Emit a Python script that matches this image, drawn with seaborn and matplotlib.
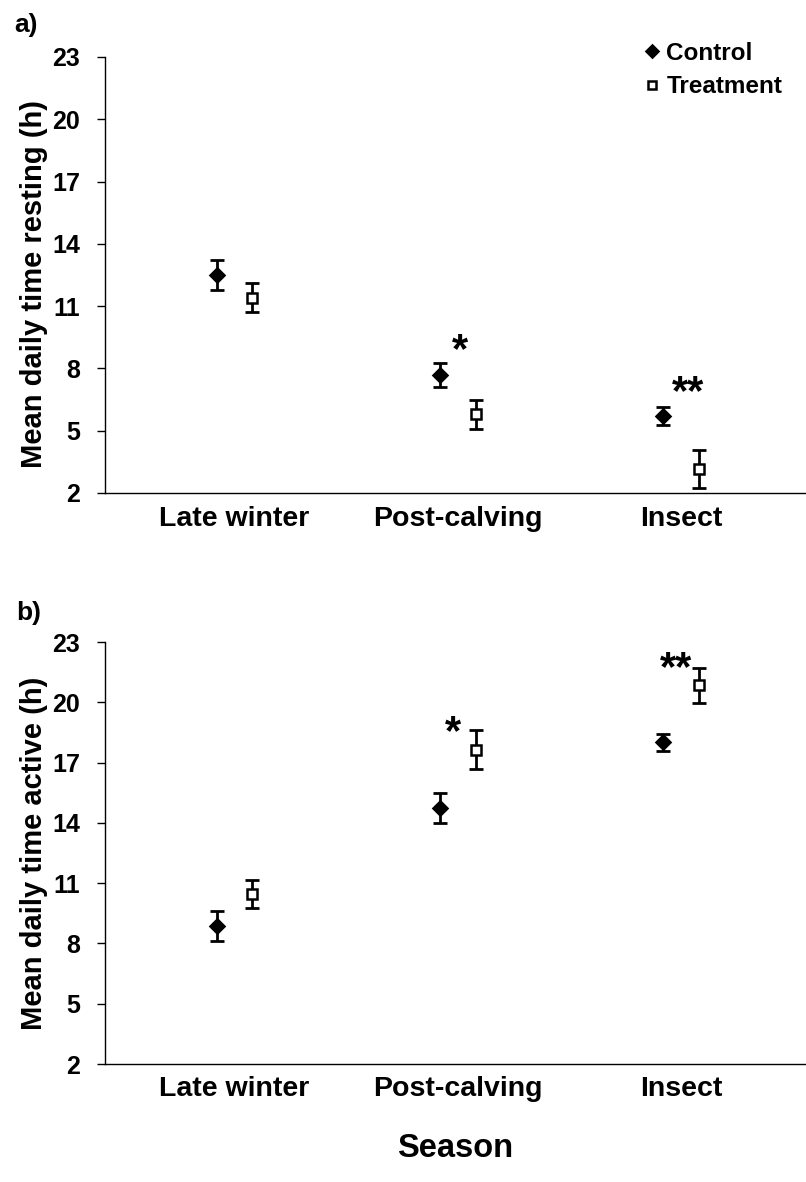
import matplotlib
matplotlib.use('Agg')
import matplotlib.pyplot as plt
import seaborn as sns
import pandas as pd

# Season categories and groups
seasons = ['Late winter', 'Post-calving', 'Insect']
groups = ['Control', 'Treatment']

# Panel a) mean daily time resting (h) with standard errors
rest_control = [12.5, 7.7, 5.7]
rest_control_se = [0.74, 0.58, 0.43]
rest_treat = [11.4, 5.8, 3.15]
rest_treat_se = [0.7, 0.7, 0.92]

# Panel b) mean daily time active (h) with standard errors
active_control = [8.85, 14.75, 18.0]
active_control_se = [0.75, 0.75, 0.43]
active_treat = [10.45, 17.65, 20.85]
active_treat_se = [0.7, 0.95, 0.87]

# significance marks: (season index, y, label)
rest_stars = [(1.01, 9.45, '*'), (2.03, 7.4, '**')]
active_stars = [(0.98, 19.1, '*'), (1.98, 22.3, '**')]

yticks = [2, 5, 8, 11, 14, 17, 20, 23]

sns.set_theme(style='ticks')
plt.rcParams['font.family'] = ['Liberation Sans', 'DejaVu Sans']
plt.rcParams['font.weight'] = 'bold'
plt.rcParams['axes.labelweight'] = 'bold'
plt.rcParams['text.color'] = 'black'
plt.rcParams['axes.labelcolor'] = 'black'
plt.rcParams['xtick.color'] = 'black'
plt.rcParams['ytick.color'] = 'black'


def draw_panel(ax, control, control_se, treat, treat_se, ylabel, stars, legend=False):
    df = pd.DataFrame({
        'season': seasons * 2,
        'group': ['Control'] * 3 + ['Treatment'] * 3,
        'mean': control + treat,
        'se': control_se + treat_se,
    })
    sns.pointplot(data=df, x='season', y='mean', hue='group', order=seasons,
                  hue_order=groups, dodge=0.16, markers=['D', 's'],
                  linestyle='none', palette=['black', 'black'], errorbar=None,
                  markersize=7, markeredgewidth=1.8, ax=ax)
    lines = list(ax.lines)[:2]
    lines[1].set_markerfacecolor('white')
    for line, g in zip(lines, groups):
        line.set_zorder(3)
        se = df.loc[df['group'] == g, 'se'].values
        ax.errorbar(line.get_xdata(), line.get_ydata(), yerr=se, fmt='none',
                    ecolor='black', elinewidth=2, capsize=5, capthick=2, zorder=2)
    if ax.get_legend() is not None:
        ax.get_legend().remove()
    if legend:
        ax.legend(handles=lines, labels=groups, loc='upper left',
                  bbox_to_anchor=(642 / 806, 1 - 42 / 1182),
                  bbox_transform=ax.figure.transFigure, frameon=False,
                  fontsize=17.5, handlelength=0.8, handletextpad=0.2,
                  borderaxespad=0, borderpad=0, labelspacing=0.42,
                  markerscale=0.9)

    for x, y, s in stars:
        ax.annotate(s, xy=(x, y), xytext=(0, -17), textcoords='offset points',
                    ha='center', va='baseline', fontsize=30, fontweight='bold')

    ax.set_xlim(-0.58, 2.56)
    ax.set_ylim(2, 23)
    ax.set_yticks(yticks)
    ax.set_ylabel(ylabel, fontsize=21)
    ax.set_xlabel('')
    ax.tick_params(axis='y', length=6, width=1, pad=12, labelsize=18)
    ax.tick_params(axis='x', length=0, pad=9, labelsize=20.5)
    for side in ['top', 'right']:
        ax.spines[side].set_visible(False)
    for side in ['left', 'bottom']:
        ax.spines[side].set_color('black')
        ax.spines[side].set_linewidth(1)


fig = plt.figure(figsize=(8.06, 11.82), dpi=100)
ax_a = fig.add_axes([105 / 806, 1 - 493 / 1182, 701 / 806, 436 / 1182])
ax_b = fig.add_axes([105 / 806, 1 - 1064 / 1182, 701 / 806, 422 / 1182])

draw_panel(ax_a, rest_control, rest_control_se, rest_treat, rest_treat_se,
           'Mean daily time resting (h)', rest_stars, legend=True)
draw_panel(ax_b, active_control, active_control_se, active_treat, active_treat_se,
           'Mean daily time active (h)', active_stars)
ax_a.yaxis.set_label_coords(-0.081, 0.48)
ax_b.yaxis.set_label_coords(-0.081, 0.5)

ax_b.set_xlabel('Season', fontsize=23.5, labelpad=22)

fig.text(14 / 806, 1 - 32 / 1182, 'a)', fontsize=19, fontweight='bold', va='baseline')
fig.text(16 / 806, 1 - 620 / 1182, 'b)', fontsize=19, fontweight='bold', va='baseline')

fig.savefig('out.png', dpi=100)
